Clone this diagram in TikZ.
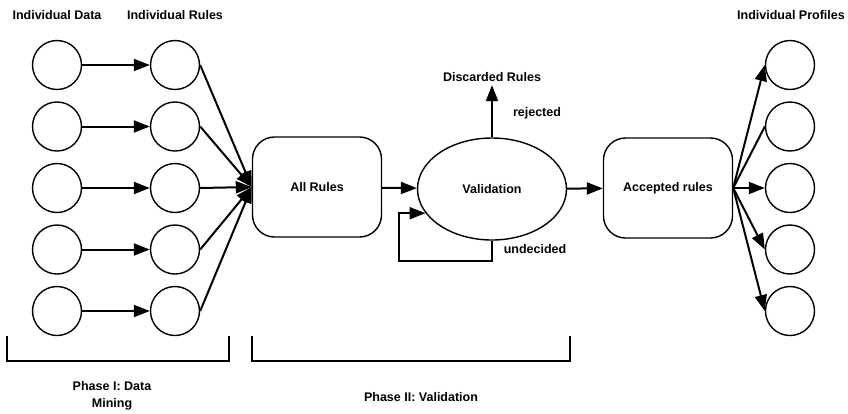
\documentclass[tikz,border=0pt]{standalone}
\usepackage{fontspec}
\setmainfont{Liberation Sans}
\usetikzlibrary{arrows.meta, shapes.geometric}

\begin{document}
\begin{tikzpicture}[x=1pt, y=-1pt, node distance=61.5pt,
    font=\bfseries\fontsize{12.5}{17}\selectfont,
    item/.style={circle, draw, line width=1.4pt, minimum size=49pt, inner sep=0pt},
    block/.style={rectangle, rounded corners=22pt, draw, line width=1.4pt, minimum width=129pt, minimum height=100pt},
    arr/.style={line width=2pt, -{Triangle[length=16pt, width=12pt]}}]

    \useasboundingbox (0,0) rectangle (848,413);

    % Nodes
    \node[item] (d1) at (57,65) {};
    \node[item, below of=d1] (d2) {};
    \node[item, below of=d2] (d3) {};
    \node[item, below of=d3] (d4) {};
    \node[item, below of=d4] (d5) {};

    \node[item, right of=d1, node distance=118pt] (r1) {};
    \node[item, below of=r1] (r2) {};
    \node[item, below of=r2] (r3) {};
    \node[item, below of=r3] (r4) {};
    \node[item, below of=r4] (r5) {};

    \node[block] (all) at (317,187) {All Rules};
    \node[ellipse, draw, line width=1.4pt, minimum width=149pt, minimum height=102pt, inner sep=0pt] (valid) at (492,189) {Validation};
    \node[block] (acc) at (668,188) {Accepted rules};

    \node[item] (p1) at (790,65) {};
    \node[item, below of=p1] (p2) {};
    \node[item, below of=p2] (p3) {};
    \node[item, below of=p3] (p4) {};
    \node[item, below of=p4] (p5) {};

    % Labels
    \node (hdata) at (57,15) {Individual Data};
    \node (hrules) at (175,15) {Individual Rules};
    \node (hprof) at (791,15) {Individual Profiles};
    \node (discard) at (492,77) {Discarded Rules};
    \node (rej) at (537,113) {rejected};
    \node (und) at (535,249) {undecided};
    \node[align=center] (ph1) at (112,396) {Phase I: Data\\Mining};
    \node (ph2) at (421,397) {Phase II: Validation};
    \coordinate (loopbl) at (399,261);

    % Edges
    \draw[arr] (d1) -- (r1);
    \draw[arr] (d2) -- (r2);
    \draw[arr] (d3) -- (r3);
    \draw[arr] (d4) -- (r4);
    \draw[arr] (d5) -- (r5);

    \draw[arr] (r1.east) -- (all.west);
    \draw[arr] (r2.east) -- (all.west);
    \draw[arr] (r3.east) -- (all.west);
    \draw[arr] (r4.east) -- (all.west);
    \draw[arr] (r5.east) -- (all.west);

    \draw[arr] (all) -- (valid);
    \draw[arr] (valid) -- (acc);
    \draw[arr] (valid) -- (discard);
    \draw[arr] (valid.south) |- (loopbl) |- (valid.200);

    \draw[arr] (acc.east) -- (p1.west);
    \draw[line width=2pt] (acc.east) -- (p2.west);
    \draw[arr] (acc.east) -- (p3.west);
    \draw[arr] (acc.east) -- (p4.west);
    \draw[arr] (acc.east) -- (p5.west);

    % Phases
    \draw[line width=1.4pt] (7,336) |- (229,361) -- (229,336);
    \draw[line width=1.4pt] (252,336) |- (570,361) -- (570,336);

\end{tikzpicture}
\end{document}
